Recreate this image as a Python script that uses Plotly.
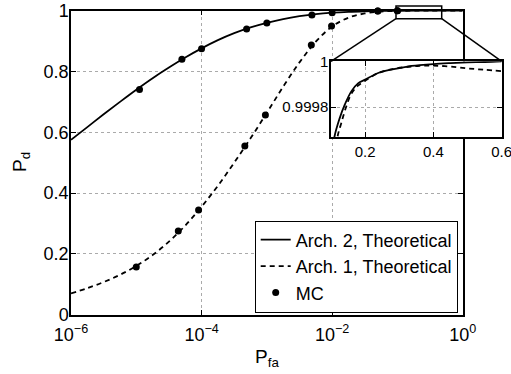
import plotly.graph_objects as go

# ---------------- data ----------------
theory_log_pfa = [-6, -5.75, -5.5, -5.25, -5, -4.75, -4.5, -4.25, -4, -3.75, -3.5, -3.25,
                  -3, -2.75, -2.5, -2.25, -2, -1.75, -1.5, -1.25, -1, -0.5, 0]
pd_arch2 = [0.575, 0.617, 0.659, 0.700, 0.740, 0.778, 0.813, 0.846, 0.876, 0.903, 0.926, 0.945,
            0.960, 0.9725, 0.982, 0.989, 0.9935, 0.9963, 0.998, 0.9991, 0.9997, 1.0, 1.0]
pd_arch1 = [0.070, 0.087, 0.107, 0.131, 0.160, 0.196, 0.240, 0.293, 0.355, 0.424, 0.500, 0.580,
            0.664, 0.750, 0.830, 0.898, 0.948, 0.977, 0.991, 0.997, 0.9995, 1.0, 1.0]

mc_pfa_arch2 = [1.12e-5, 5e-5, 1e-4, 4.9e-4, 1e-3, 4.9e-3, 1e-2, 5e-2, 1e-1]
mc_pd_arch2 = [0.741, 0.840, 0.875, 0.940, 0.9595, 0.986, 0.9934, 0.999, 1.0]
mc_pfa_arch1 = [1e-5, 4.4e-5, 9e-5, 4.6e-4, 9.5e-4, 4.8e-3, 9.8e-3, 5e-2, 1e-1]
mc_pd_arch1 = [0.157, 0.275, 0.344, 0.555, 0.657, 0.887, 0.950, 0.999, 1.0]

inset_pfa_arch2 = [0.10, 0.11, 0.125, 0.14, 0.16, 0.18, 0.20, 0.24, 0.28, 0.32, 0.36, 0.40,
                   0.45, 0.50, 0.55, 0.60]
inset_pd_arch2 = [0.99955, 0.99967, 0.99975, 0.99981, 0.99987, 0.999905, 0.99992, 0.99995,
                  0.999965, 0.999976, 0.999983, 0.999988, 0.999992, 0.999995, 0.999997, 1.0]
inset_pfa_arch1 = [0.10, 0.119, 0.13, 0.144, 0.16, 0.18, 0.20, 0.24, 0.28, 0.32, 0.36, 0.40,
                   0.45, 0.50, 0.55, 0.60]
inset_pd_arch1 = [0.9994, 0.99967, 0.99973, 0.9998, 0.99986, 0.999895, 0.999915, 0.99995,
                  0.999966, 0.999975, 0.99998, 0.999981, 0.999977, 0.999969, 0.999963, 0.999957]

main_xtick_vals = [1e-6, 1e-4, 1e-2, 1]
main_xtick_text = ["10<sup>\u22126</sup>", "10<sup>\u22124</sup>", "10<sup>\u22122</sup>", "10<sup>0</sup>"]
main_ytick_vals = [0, 0.2, 0.4, 0.6, 0.8, 1]
main_ytick_text = ["0", "0.2", "0.4", "0.6", "0.8", "1"]
inset_xtick_vals = [0.2, 0.4, 0.6]
inset_xtick_text = ["0.2", "0.4", "0.6"]
inset_ytick_vals = [0.9998, 1.0]
inset_ytick_text = ["0.9998", "1"]

# ---------------- figure ----------------
W, H = 511, 374
FONT = "Liberation Sans, Arial, sans-serif"
theory_pfa = [10 ** v for v in theory_log_pfa]

fig = go.Figure()
fig.add_trace(go.Scatter(x=theory_pfa, y=pd_arch2, mode="lines", name="Arch. 2, Theoretical",
                         line=dict(color="black", width=1.8, shape="spline"),
                         xaxis="x", yaxis="y"))
fig.add_trace(go.Scatter(x=theory_pfa, y=pd_arch1, mode="lines", name="Arch. 1, Theoretical",
                         line=dict(color="black", width=1.8, dash="5px,4px", shape="spline"),
                         xaxis="x", yaxis="y"))
fig.add_trace(go.Scatter(x=mc_pfa_arch2 + mc_pfa_arch1, y=mc_pd_arch2 + mc_pd_arch1,
                         mode="markers", name="MC", cliponaxis=False,
                         marker=dict(color="black", size=7),
                         xaxis="x", yaxis="y"))
fig.add_trace(go.Scatter(x=inset_pfa_arch2, y=inset_pd_arch2, mode="lines", showlegend=False,
                         line=dict(color="black", width=1.8, shape="spline"),
                         xaxis="x2", yaxis="y2"))
fig.add_trace(go.Scatter(x=inset_pfa_arch1, y=inset_pd_arch1, mode="lines", showlegend=False,
                         line=dict(color="black", width=1.8, dash="5px,4px", shape="spline"),
                         xaxis="x2", yaxis="y2"))

def px_x(p):
    return p / W

def px_y(p):
    return 1 - p / H

grid = dict(showgrid=True, gridcolor="#aaaaaa", gridwidth=1, griddash="dot")
axis_common = dict(showline=True, linecolor="black", linewidth=1.5, mirror="ticks",
                   ticks="inside", ticklen=5, tickcolor="black", zeroline=False,
                   automargin=False, ticklabeloverflow="allow")

fig.update_layout(
    width=W, height=H, autosize=False,
    margin=dict(l=0, r=0, t=0, b=0, pad=0, autoexpand=False),
    paper_bgcolor="white", plot_bgcolor="white",
    font=dict(family=FONT, size=18, color="black"),
    xaxis=dict(type="log", range=[-6, 0], domain=[px_x(71), px_x(462.7)],
               tickvals=main_xtick_vals, ticktext=main_xtick_text, anchor="y",
               tickfont=dict(family=FONT, size=18, color="black"), ticklabelstandoff=3,
               **grid, **axis_common),
    yaxis=dict(range=[0, 1], domain=[px_y(314.6), px_y(10.7)],
               tickvals=main_ytick_vals, ticktext=main_ytick_text, anchor="x",
               tickfont=dict(family=FONT, size=18, color="black"), ticklabelstandoff=-3,
               **grid, **axis_common),
    xaxis2=dict(range=[0.1, 0.6], domain=[px_x(331), px_x(501.7)], anchor="y2",
                tickvals=inset_xtick_vals, ticktext=inset_xtick_text,
                tickfont=dict(family=FONT, size=15, color="black"),
                **grid, **axis_common),
    yaxis2=dict(range=[0.99967, 1.0], domain=[px_y(137), px_y(61.3)], anchor="x2",
                tickvals=inset_ytick_vals, ticktext=inset_ytick_text,
                tickfont=dict(family=FONT, size=15, color="black"), ticklabelstandoff=-2,
                **grid, **axis_common),
    legend=dict(x=px_x(457.7), y=px_y(312.5), xanchor="right", yanchor="bottom",
                bgcolor="white", bordercolor="black", borderwidth=1,
                font=dict(family=FONT, size=18, color="black"),
                tracegroupgap=0),
    showlegend=True,
)

# zoom rectangle and connector lines
fig.add_shape(type="rect", xref="paper", yref="paper",
              x0=px_x(396), x1=px_x(441.7), y0=px_y(18.7), y1=px_y(6),
              line=dict(color="black", width=1.5), layer="above")
fig.add_shape(type="line", xref="paper", yref="paper",
              x0=px_x(396), y0=px_y(18.7), x1=px_x(331), y1=px_y(61.3),
              line=dict(color="black", width=1.5), layer="above")
fig.add_shape(type="line", xref="paper", yref="paper",
              x0=px_x(441.7), y0=px_y(18.7), x1=px_x(501.7), y1=px_y(61.3),
              line=dict(color="black", width=1.5), layer="above")

# axis titles
fig.add_annotation(text="P<sub>fa</sub>", xref="paper", yref="paper",
                   x=px_x(267), y=px_y(358), xanchor="center", yanchor="middle",
                   showarrow=False, font=dict(family=FONT, size=19, color="black"))
fig.add_annotation(text="P<sub>d</sub>", xref="paper", yref="paper",
                   x=px_x(21), y=px_y(162), xanchor="center", yanchor="middle",
                   textangle=-90, showarrow=False,
                   font=dict(family=FONT, size=19, color="black"))

fig.write_html("out.html")
